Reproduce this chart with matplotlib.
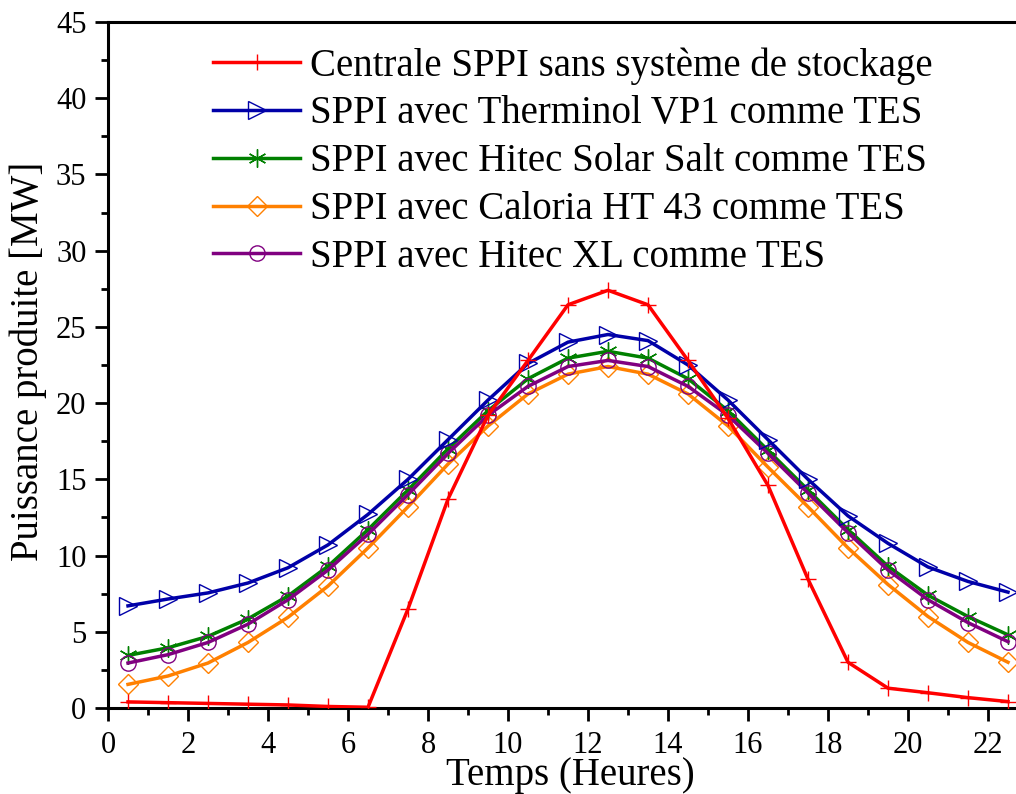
import matplotlib
matplotlib.use("Agg")
import matplotlib.pyplot as plt
from matplotlib.ticker import MultipleLocator

plt.rcParams['font.family'] = ['Liberation Serif', 'DejaVu Serif']

hours = [0.5, 1.5, 2.5, 3.5, 4.5, 5.5, 6.5, 7.5, 8.5, 9.5, 10.5, 11.5,
         12.5, 13.5, 14.5, 15.5, 16.5, 17.5, 18.5, 19.5, 20.5, 21.5, 22.5]

sans_stockage = [0.4, 0.35, 0.3, 0.25, 0.2, 0.1, 0.05, 6.5, 13.7, 19.2, 22.8, 26.45,
                 27.4, 26.45, 22.8, 19.0, 14.6, 8.45, 3.0, 1.3, 1.0, 0.68, 0.42]
therminol = [6.7, 7.15, 7.55, 8.2, 9.2, 10.7, 12.7, 15.0, 17.6, 20.2, 22.6, 24.0,
             24.5, 24.1, 22.5, 20.2, 17.6, 15.0, 12.6, 10.8, 9.25, 8.3, 7.6]
solar_salt = [3.45, 3.95, 4.7, 5.85, 7.35, 9.3, 11.7, 14.3, 17.0, 19.5, 21.6, 22.95,
              23.4, 22.95, 21.6, 19.5, 16.9, 14.3, 11.7, 9.3, 7.4, 6.0, 4.8]
caloria = [1.55, 2.1, 2.95, 4.3, 5.95, 8.0, 10.5, 13.2, 16.0, 18.5, 20.6, 21.9,
           22.4, 21.9, 20.6, 18.5, 15.8, 13.2, 10.5, 8.1, 6.0, 4.3, 3.0]
hitec_xl = [2.95, 3.5, 4.3, 5.5, 7.1, 9.05, 11.4, 14.0, 16.7, 19.2, 21.1, 22.4,
            22.8, 22.4, 21.1, 19.2, 16.7, 14.1, 11.5, 9.05, 7.1, 5.6, 4.35]

labels = ["Centrale SPPI sans système de stockage",
          "SPPI avec Therminol VP1 comme TES",
          "SPPI avec Hitec Solar Salt comme TES",
          "SPPI avec Caloria HT 43 comme TES",
          "SPPI avec Hitec XL comme TES"]

fig = plt.figure(figsize=(10.16, 7.94), dpi=100)
ax = fig.add_axes([108/1016, 1-708/794, 1-108/1016, (708-22)/794])

lw = 2.5
ax.plot(hours, sans_stockage, color='#FF0000', lw=lw, marker='+', ms=11, mew=1.0,
        label=labels[0], zorder=6)
ax.plot(hours, therminol, color='#0000A8', lw=lw, marker='>', ms=13, mew=1.0,
        mfc='none', label=labels[1], zorder=5)
ax.plot(hours, solar_salt, color='#008000', lw=lw, marker=(6, 2, 0), ms=13, mew=1.0,
        label=labels[2], zorder=4)
ax.plot(hours, caloria, color='#FF8000', lw=lw, marker='D', ms=10, mew=1.0,
        mfc='none', label=labels[3], zorder=3)
ax.plot(hours, hitec_xl, color='#800080', lw=lw, marker='o', ms=11, mew=1.0,
        mfc='none', label=labels[4], zorder=4)

ax.set_xlim(0, 22.7)
ax.set_ylim(0, 45)
ax.xaxis.set_major_locator(MultipleLocator(2))
ax.xaxis.set_minor_locator(MultipleLocator(1))
ax.yaxis.set_major_locator(MultipleLocator(5))
ax.yaxis.set_minor_locator(MultipleLocator(2.5))

ax.spines['right'].set_visible(False)
for s in ['left', 'bottom', 'top']:
    ax.spines[s].set_linewidth(2.2)

ax.tick_params(axis='both', which='major', direction='out', length=9.5, width=2,
               labelsize=22)
ax.tick_params(axis='x', which='major', pad=7)
ax.tick_params(axis='y', which='major', pad=6)
ax.tick_params(axis='both', which='minor', direction='out', length=5, width=2)

ax.set_xlabel("Temps (Heures)", fontsize=28)
ax.xaxis.set_label_coords((570-108)/908, (708-785)/686)
ax.xaxis.label.set_verticalalignment('baseline')
ax.set_ylabel("Puissance produite [MW]", fontsize=28)
ax.yaxis.set_label_coords((28-108)/908, (708-361)/686)
ax.yaxis.label.set_verticalalignment('center')

leg = ax.legend(loc='upper left', bbox_to_anchor=((213-108)/908, (708-47)/686),
                frameon=False, fontsize=28, handlelength=2.24, handletextpad=0.26,
                labelspacing=0.28, borderaxespad=0, borderpad=0)

fig.savefig("out.png", dpi=100)
